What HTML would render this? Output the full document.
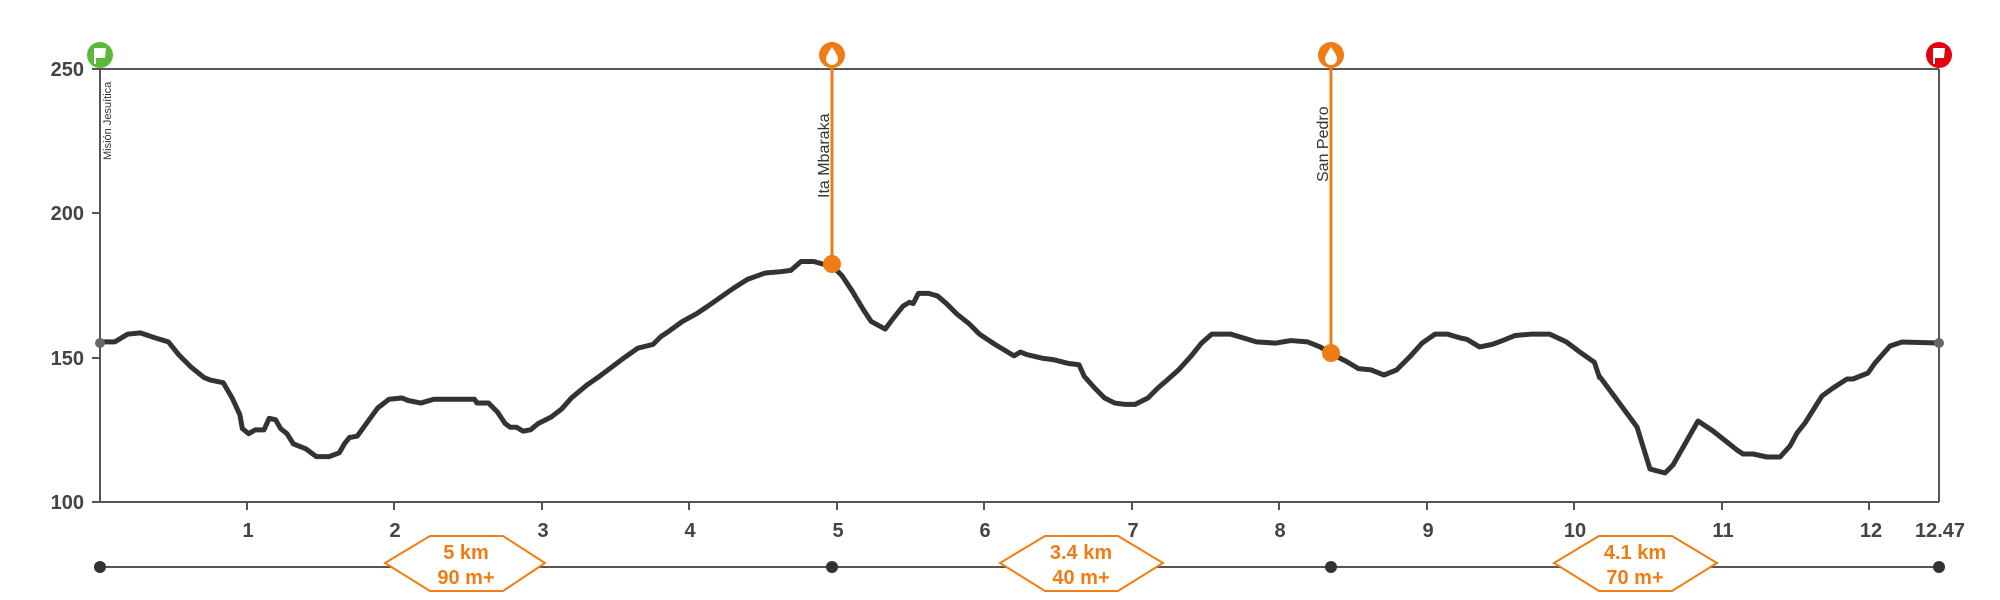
<!DOCTYPE html>
<html><head><meta charset="utf-8"><style>
html,body{margin:0;padding:0;background:#fff}
svg{display:block}
text{font-family:"Liberation Sans",Arial,sans-serif}
</style></head><body>
<svg width="2000" height="600" viewBox="0 0 2000 600" xmlns="http://www.w3.org/2000/svg">
<!-- frame -->
<g stroke="#555" stroke-width="2" fill="none">
<line x1="100" y1="69" x2="1939" y2="69"/>
<line x1="100" y1="69" x2="100" y2="502"/>
<line x1="1939" y1="69" x2="1939" y2="502"/>
<line x1="92" y1="502" x2="1939" y2="502"/>
<line x1="92" y1="69" x2="100" y2="69"/>
<line x1="92" y1="213" x2="100" y2="213"/>
<line x1="92" y1="358" x2="100" y2="358"/>
<line x1="247" y1="502" x2="247" y2="510"/>
<line x1="394" y1="502" x2="394" y2="510"/>
<line x1="542" y1="502" x2="542" y2="510"/>
<line x1="689" y1="502" x2="689" y2="510"/>
<line x1="837" y1="502" x2="837" y2="510"/>
<line x1="984" y1="502" x2="984" y2="510"/>
<line x1="1132" y1="502" x2="1132" y2="510"/>
<line x1="1279" y1="502" x2="1279" y2="510"/>
<line x1="1427" y1="502" x2="1427" y2="510"/>
<line x1="1574" y1="502" x2="1574" y2="510"/>
<line x1="1722" y1="502" x2="1722" y2="510"/>
<line x1="1869" y1="502" x2="1869" y2="510"/>
</g>
<g fill="#444" font-size="20" font-weight="bold" text-anchor="end">
<text x="84" y="76">250</text><text x="84" y="220">200</text><text x="84" y="365">150</text><text x="84" y="509">100</text>
</g>
<g fill="#444" font-size="20" font-weight="bold" text-anchor="middle">
<text x="248" y="537">1</text><text x="395" y="537">2</text><text x="543" y="537">3</text><text x="690" y="537">4</text>
<text x="838" y="537">5</text><text x="985" y="537">6</text><text x="1133" y="537">7</text><text x="1280" y="537">8</text>
<text x="1428" y="537">9</text><text x="1575" y="537">10</text><text x="1723" y="537">11</text><text x="1871" y="537">12</text>
<text x="1940" y="537">12.47</text>
</g>
<!-- profile -->
<g fill="none" stroke="#333" stroke-width="5" stroke-linejoin="round" stroke-linecap="round">
<polyline vector-effect="non-scaling-stroke" transform="scale(1.2755)" points="78,268 90,268 100,262 110,261 122,265 132,268 140,278 150,288 160,296 165,298 175,300 182,312 188,325 190,336 195,340 200,337 207,337 211,328 216,329 220,336 225,340 230,348 240,352 248,358 258,358 266,355 270,348 274,343 280,342 288,331 296,320 305,313 315,312 320,314 330,316 340,313 350,313 372,313 374,316 383,316 390,323 396,332 400,335 405,335 410,338 416,337 422,332 432,327 440,321 448,312 460,302 470,295 478,289 490,280 500,273 512,270 518,264 524,260 535,252 546,246 555,240 565,233 575,226 586,219 600,214 612,213 620,212 628,205 638,205 645,207 652,208 660,216 668,228 677,243 683,252 694,258 700,250 708,240 713,237 716,238 720,230 728,230 735,232 742,238 750,246 760,254 768,262 780,270 790,276 795,279 800,276 805,278 818,281 826,282 838,285 846,286 850,295 858,304 866,312 874,316 882,317 890,317 900,312 908,304 915,298 924,290 934,279 942,269 950,262 965,262 975,265 985,268 1000,269 1012,267 1025,268 1035,272 1045,278 1055,283 1065,289 1075,290 1085,294 1095,290 1105,280 1115,269 1125,262 1135,262 1145,265 1150,266 1160,272 1170,270 1178,267 1188,263 1200,262 1215,262 1228,268 1240,277 1250,284 1254,296"/>
<polyline points="1600,377 1620,404 1637,427 1650,469 1665,473 1673,465 1698,421 1713,431 1737,450 1743,454 1753,454 1767,457 1780,457 1790,446 1797,433 1805,423 1822,396 1833,388 1847,379 1853,379 1868,373 1875,363 1890,346 1902,342 1939,343"/>
</g>
<circle cx="100" cy="343" r="5" fill="#666"/>
<circle cx="1939" cy="343" r="5" fill="#666"/>
<!-- waypoints -->
<g stroke="#f07d14" stroke-width="3"><line x1="832" y1="60" x2="832" y2="264"/><line x1="1331" y1="60" x2="1331" y2="353"/></g>
<circle cx="832" cy="264" r="9" fill="#f07d14"/>
<circle cx="1331" cy="353" r="9" fill="#f07d14"/>
<circle cx="832" cy="55" r="13" fill="#f07d14"/>
<circle cx="1331" cy="55" r="13" fill="#f07d14"/>
<path d="M832 47 C836 53 838 56 838 59 A6 6 0 0 1 826 59 C826 56 828 53 832 47Z" fill="#fff"/>
<path d="M1331 47 C1335 53 1337 56 1337 59 A6 6 0 0 1 1325 59 C1325 56 1327 53 1331 47Z" fill="#fff"/>
<g fill="#333" font-size="16">
<text transform="translate(829,198) rotate(-90)">Ita Mbaraka</text>
<text transform="translate(1328,182) rotate(-90)">San Pedro</text>
<text font-size="11" transform="translate(111,160) rotate(-90)">Misión Jesuítica</text>
</g>
<!-- flags -->
<circle cx="100" cy="55" r="13" fill="#5cb83a"/>
<circle cx="1939" cy="55" r="13" fill="#e3000f"/>
<g fill="#fff"><path d="M94 48 L106 48 L105 58 L96 58 L96 64 L94 64Z"/><path d="M1933 48 L1945 48 L1944 58 L1935 58 L1935 64 L1933 64Z"/></g>
<!-- bottom segments -->
<line x1="100" y1="567" x2="1939" y2="567" stroke="#555" stroke-width="2"/>
<g fill="#333"><circle cx="100" cy="567" r="6"/><circle cx="832" cy="567" r="6"/><circle cx="1331" cy="567" r="6"/><circle cx="1939" cy="567" r="6"/></g>
<g fill="#fff" stroke="#f07d14" stroke-width="2">
<polygon points="385,563 430,536 503,536 545,563 503,591 430,591"/>
<polygon points="1000,563 1045,536 1118,536 1163,563 1118,591 1045,591"/>
<polygon points="1554,563 1599,536 1672,536 1717,563 1672,591 1599,591"/>
</g>
<g fill="#f07d14" font-size="20" font-weight="bold" text-anchor="middle">
<text x="466" y="559">5 km</text><text x="466" y="584">90 m+</text>
<text x="1081" y="559">3.4 km</text><text x="1081" y="584">40 m+</text>
<text x="1635" y="559">4.1 km</text><text x="1635" y="584">70 m+</text>
</g>
</svg>
</body></html>
